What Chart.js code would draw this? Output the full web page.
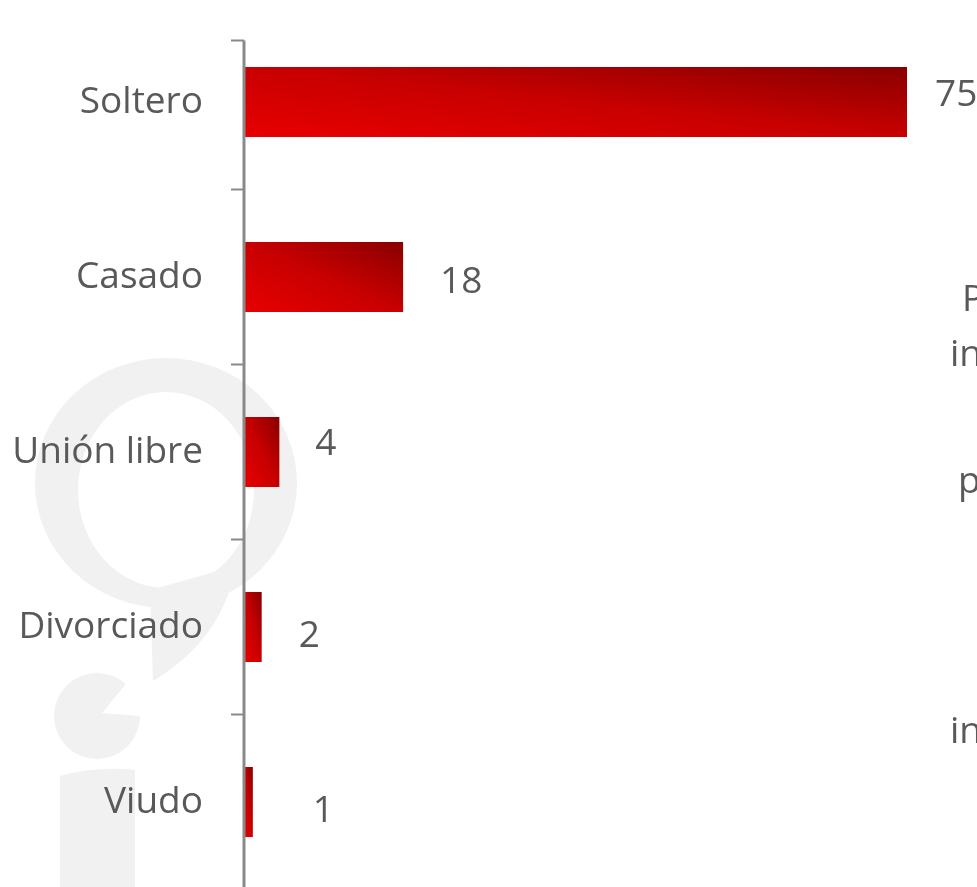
<!DOCTYPE html>
<html>
<head>
<meta charset="utf-8">
<script src="https://cdn.jsdelivr.net/npm/chart.js@4/dist/chart.umd.min.js"></script>
<style>
    html, body { margin: 0; padding: 0; overflow: hidden; background: #ffffff; }
    #wrap { position: relative; width: 1150px; height: 900px; }
    .side-text {
        position: absolute;
        font-family: 'Open Sans', sans-serif;
        font-size: 37px;
        line-height: 37px;
        color: #595959;
        white-space: nowrap;
    }
</style>
</head>
<body>
<div id="wrap">
    <canvas id="estadoChart"></canvas>
</div>
<div class="side-text" style="left:962px; top:278px;">P</div>
<div class="side-text" style="left:950px; top:333px;">in</div>
<div class="side-text" style="left:958px; top:460px;">p</div>
<div class="side-text" style="left:950px; top:710px;">in</div>

<script>
// Data
const categories = ['Soltero', 'Casado', 'Unión libre', 'Divorciado', 'Viudo'];
const values = [75, 18, 4, 2, 1];

const textColor = '#595959';
const axisColor = '#898989';

// Per-bar gradient: bright red bottom-left to dark red top-right
function barGradient(context) {
    const chart = context.chart;
    if (!chart.chartArea || !chart.scales.x || !chart.scales.y) {
        return '#c80000';
    }
    const xs = chart.scales.x;
    const ys = chart.scales.y;
    const x0 = xs.getPixelForValue(0);
    const x1 = xs.getPixelForValue(context.raw);
    const band = ys.height / categories.length;
    const h = band * 0.4;
    const yc = ys.getPixelForValue(context.dataIndex);
    const yb = yc + h / 2;
    const w = Math.max(x1 - x0, 1);
    const c = 2 / (1 / (w * w) + 1 / (h * h));
    const g = chart.ctx.createLinearGradient(x0, yb, x0 + c / w, yb - c / h);
    g.addColorStop(0, '#e80000');
    g.addColorStop(0.5, '#c80000');
    g.addColorStop(1, '#890000');
    return g;
}

// Light grey logo in the background
const watermark = {
    id: 'watermark',
    beforeDraw(chart) {
        const ctx = chart.ctx;
        ctx.save();
        ctx.fillStyle = '#f1f1f1';

        // ring
        ctx.beginPath();
        ctx.ellipse(166, 483, 131, 125, 0, 0, Math.PI * 2);
        ctx.ellipse(166, 490, 88, 98, 0, 0, Math.PI * 2, true);
        ctx.fill();

        // tail of the ring
        ctx.beginPath();
        ctx.moveTo(150, 590);
        ctx.lineTo(236, 566);
        ctx.quadraticCurveTo(222, 640, 153, 681);
        ctx.closePath();
        ctx.fill();

        // dot with notch
        ctx.beginPath();
        ctx.moveTo(102, 713);
        ctx.arc(97, 716, 43, 0, Math.PI * 2 - Math.PI * 48 / 180);
        ctx.closePath();
        ctx.fill();

        // stem
        ctx.beginPath();
        ctx.moveTo(60, 776);
        ctx.quadraticCurveTo(97, 766, 135, 770);
        ctx.lineTo(135, 900);
        ctx.lineTo(60, 900);
        ctx.closePath();
        ctx.fill();

        ctx.restore();
    }
};

// Category axis line, starting a little below the plot top like the original
const axisLine = {
    id: 'axisLine',
    afterDraw(chart, args, opts) {
        const ctx = chart.ctx;
        const area = chart.chartArea;
        const top = area.top + opts.topInset;
        ctx.save();
        ctx.strokeStyle = axisColor;
        ctx.lineWidth = 3;
        ctx.beginPath();
        ctx.moveTo(area.left, top);
        ctx.lineTo(area.left, area.bottom);
        ctx.stroke();
        ctx.lineWidth = 2;
        ctx.beginPath();
        ctx.moveTo(area.left - 13, top);
        ctx.lineTo(area.left, top);
        ctx.stroke();
        ctx.restore();
    }
};

// Value labels at the end of each bar
const valueLabels = {
    id: 'valueLabels',
    afterDatasetsDraw(chart, args, opts) {
        const ctx = chart.ctx;
        const meta = chart.getDatasetMeta(0);
        ctx.save();
        ctx.font = '37px "Open Sans", sans-serif';
        ctx.fillStyle = textColor;
        ctx.textAlign = 'left';
        ctx.textBaseline = 'middle';
        meta.data.forEach((bar, i) => {
            const gap = opts.gaps[i] || 36;
            const dy = opts.shifts[i] || 0;
            ctx.fillText(String(values[i]), bar.x + gap, bar.y + dy);
        });
        ctx.restore();
    }
};

const chart = new Chart(document.getElementById('estadoChart'), {
    type: 'bar',
    data: {
        labels: categories,
        datasets: [{
            data: values,
            backgroundColor: barGradient,
            borderWidth: 0,
            categoryPercentage: 1,
            barPercentage: 0.4
        }]
    },
    plugins: [watermark, axisLine, valueLabels],
    options: {
        indexAxis: 'y',
        responsive: true,
        maintainAspectRatio: false,
        animation: false,
        layout: {
            padding: { top: 14.5, bottom: 10.5, left: 0, right: 22 }
        },
        plugins: {
            legend: { display: false },
            tooltip: { enabled: false },
            axisLine: { topInset: 26 },
            valueLabels: {
                gaps: [28, 37, 36, 37, 60],
                shifts: [-7, 5, -8, 9, 9]
            }
        },
        scales: {
            x: {
                display: false,
                min: 0,
                max: 100
            },
            y: {
                afterFit(scale) {
                    scale.width = 244;
                    scale.paddingTop = 0;
                    scale.paddingBottom = 0;
                },
                border: {
                    display: false
                },
                grid: {
                    offset: true,
                    drawOnChartArea: false,
                    drawTicks: true,
                    tickLength: 13,
                    tickWidth: 2,
                    color: (ctx) => ctx.index === 0 ? 'rgba(0,0,0,0)' : axisColor
                },
                ticks: {
                    color: textColor,
                    padding: 28,
                    font: {
                        size: 37,
                        family: 'Open Sans'
                    }
                }
            }
        }
    }
});
</script>
</body>
</html>
